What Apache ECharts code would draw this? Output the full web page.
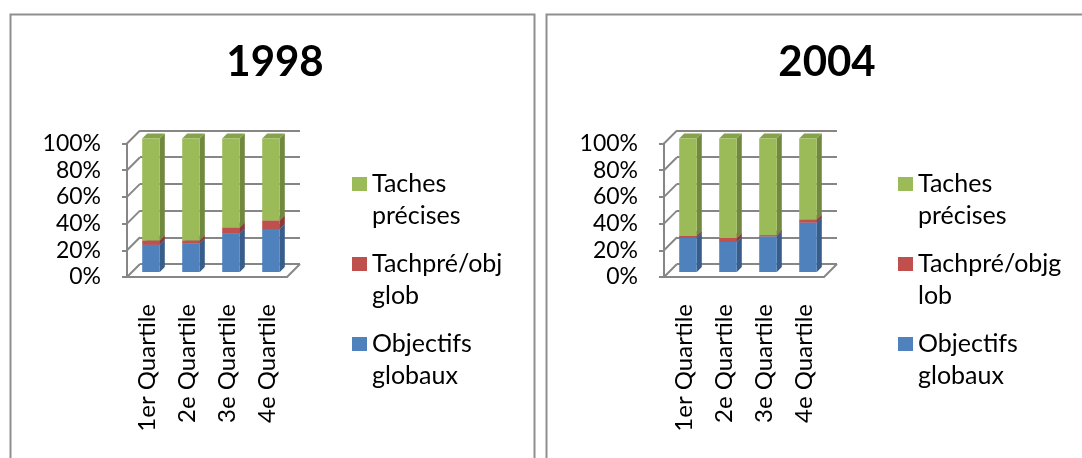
<!DOCTYPE html>
<html>
<head>
<meta charset="utf-8">
<script src="https://cdn.jsdelivr.net/npm/echarts@6/dist/echarts.min.js"></script>
<style>
html, body { margin: 0; padding: 0; background: #fff; }
#main { width: 1082px; height: 458px; }
</style>
</head>
<body>
<div id="main"></div>
<script>
const categories = ['1er Quartile', '2e Quartile', '3e Quartile', '4e Quartile'];
const yTicks = [0, 20, 40, 60, 80, 100];
const seriesNames = ['Objectifs globaux', 'Tachpré/objglob', 'Taches précises'];

// 1998
const objectifs1998 = [20.4, 21.6, 29.1, 32.3];
const tachpre1998 = [3.2, 2.0, 4.2, 6.3];
const taches1998 = [76.4, 76.4, 66.7, 61.4];

// 2004
const objectifs2004 = [25.7, 22.5, 26.7, 37.0];
const tachpre2004 = [1.3, 3.0, 0.8, 2.2];
const taches2004 = [73.0, 74.5, 72.5, 60.8];

const frontColors = ['#4F81BD', '#C0504D', '#9BBB59'];
const sideColors = ['#385D8A', '#8C3836', '#71893F'];
const topColors = ['#4672A8', '#A84644', '#86A34C'];
const gridColor = '#868686';
const FONT = 'Lato';

const WALL = 13;     // depth of the back wall
const BAR_DX = 4;    // bar plane offset
const BAR_DY = -5;
const DEPTH = 5;     // bar side depth

const myChart = echarts.init(document.getElementById('main'));

function barItem(k) {
  return function (params, api) {
    const i = api.value(0);
    const lo = api.coord([i, api.value(1)]);
    const hi = api.coord([i, api.value(2)]);
    const band = api.size([1, 0])[0];
    const w = band * 0.44;
    const x = lo[0] - w / 2 + BAR_DX;
    const yb = lo[1] + BAR_DY;
    const yt = hi[1] + BAR_DY;
    const d = DEPTH;
    return {
      type: 'group',
      children: [
        {type: 'polygon', shape: {points: [[x + w, yb], [x + w + d, yb - d], [x + w + d, yt - d], [x + w, yt]]}, style: {fill: sideColors[k]}},
        {type: 'polygon', shape: {points: [[x, yt], [x + w, yt], [x + w + d, yt - d], [x + d, yt - d]]}, style: {fill: topColors[k]}},
        {type: 'rect', shape: {x: x, y: yt, width: w, height: yb - yt}, style: {fill: frontColors[k]}}
      ]
    };
  };
}

// left wall ticks + floor diagonals
function wallItem(params, api) {
  const cs = params.coordSys;
  const p = api.coord([0, api.value(1)]);
  const children = [{
    type: 'line',
    shape: {x1: cs.x, y1: p[1], x2: cs.x + WALL, y2: p[1] - WALL},
    style: {stroke: gridColor, lineWidth: 2}
  }];
  if (api.value(1) === 0) {
    children.push({
      type: 'line',
      shape: {x1: cs.x + cs.width, y1: p[1], x2: cs.x + cs.width + WALL, y2: p[1] - WALL},
      style: {stroke: gridColor, lineWidth: 2}
    });
  }
  return {type: 'group', children: children};
}

// legend labels: leading blank line so the square lines up with the first line
const panels = [
  {year: '1998', values: [objectifs1998, tachpre1998, taches1998], gridLeft: 127, titleX: 270, legendLeft: 352,
    labels: {'Taches précises': '\nTaches\nprécises', 'Tachpré/objglob': '\nTachpré/obj\nglob', 'Objectifs globaux': '\nObjectifs\nglobaux'}},
  {year: '2004', values: [objectifs2004, tachpre2004, taches2004], gridLeft: 664, titleX: 822, legendLeft: 898,
    labels: {'Taches précises': '\nTaches\nprécises', 'Tachpré/objglob': '\nTachpré/objg\nlob', 'Objectifs globaux': '\nObjectifs\nglobaux'}}
];

const GRID_TOP = 143.5;
const GRID_W = 160;
const GRID_H = 133.5;

const option = {
  animation: false,
  title: [],
  legend: [],
  grid: [],
  xAxis: [],
  yAxis: [],
  series: [],
  graphic: [
    {type: 'rect', left: 8, top: 12, shape: {width: 524, height: 470}, style: {fill: 'none', stroke: '#8f8f8f', lineWidth: 2}, z: -1},
    {type: 'rect', left: 544, top: 12, shape: {width: 570, height: 470}, style: {fill: 'none', stroke: '#8f8f8f', lineWidth: 2}, z: -1}
  ]
};

panels.forEach(function (pn, p) {
  const front = 2 * p;
  const back = 2 * p + 1;

  option.title.push({
    text: pn.year, left: pn.titleX, top: 36, textAlign: 'center',
    textStyle: {fontFamily: FONT, fontWeight: 'bold', fontSize: 42, color: '#000'}
  });

  option.legend.push({
    orient: 'vertical', left: pn.legendLeft, top: 136, padding: 0, itemGap: -16,
    itemWidth: 15, itemHeight: 14, icon: 'rect', selectedMode: false,
    data: ['Taches précises', 'Tachpré/objglob', 'Objectifs globaux'],
    formatter: function (name) { return pn.labels[name]; },
    textStyle: {fontFamily: FONT, fontSize: 25, color: '#000', lineHeight: 32}
  });

  // front plane (axis + labels)
  option.grid.push({left: pn.gridLeft, top: GRID_TOP, width: GRID_W, height: GRID_H});
  // back wall (gridlines)
  option.grid.push({left: pn.gridLeft + WALL, top: GRID_TOP - WALL, width: GRID_W, height: GRID_H});

  option.xAxis.push({
    gridIndex: front, type: 'category', data: categories,
    axisLine: {lineStyle: {color: gridColor, width: 2}},
    axisTick: {length: 5, lineStyle: {color: gridColor, width: 2}},
    axisLabel: {interval: 0, rotate: 90, margin: 27, fontFamily: FONT, fontSize: 24, color: '#000'}
  });
  option.xAxis.push({gridIndex: back, type: 'value', show: false, min: 0, max: 1});

  option.yAxis.push({
    gridIndex: front, type: 'value', min: 0, max: 100, interval: 20,
    axisLine: {show: true, lineStyle: {color: gridColor, width: 2}},
    axisTick: {show: true, length: 5, lineStyle: {color: gridColor, width: 2}},
    splitLine: {show: false},
    axisLabel: {formatter: '{value}%', margin: 26, fontFamily: FONT, fontSize: 23, color: '#000'}
  });
  option.yAxis.push({
    gridIndex: back, type: 'value', min: 0, max: 100, interval: 20,
    axisLine: {show: false}, axisTick: {show: false}, axisLabel: {show: false},
    splitLine: {show: true, lineStyle: {color: gridColor, width: 2}}
  });

  option.series.push({
    type: 'custom', xAxisIndex: front, yAxisIndex: front, silent: true, z: 1,
    data: yTicks.map(function (v) { return [0, v]; }),
    renderItem: wallItem
  });

  // stacked bars: build [category, base, top]
  const base = categories.map(function () { return 0; });
  pn.values.forEach(function (vals, k) {
    const data = vals.map(function (v, i) {
      const item = [i, base[i], base[i] + v];
      base[i] += v;
      return item;
    });
    option.series.push({
      name: seriesNames[k], type: 'custom', xAxisIndex: front, yAxisIndex: front, z: 3,
      itemStyle: {color: frontColors[k]},
      encode: {x: 0, y: [1, 2]},
      data: data,
      renderItem: barItem(k)
    });
  });
});

myChart.setOption(option);
</script>
</body>
</html>
